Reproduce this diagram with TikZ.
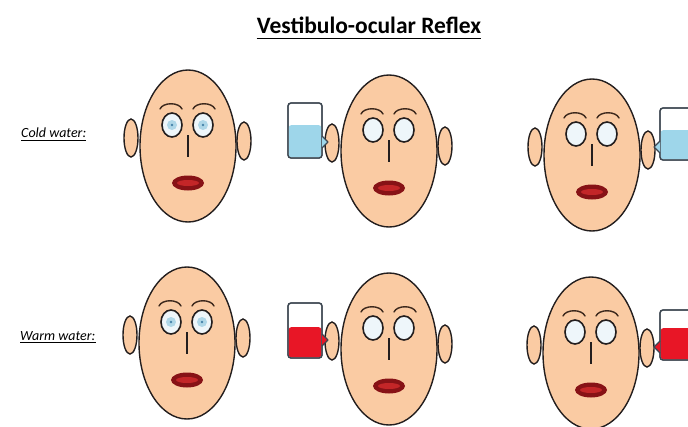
\documentclass[tikz,border=0pt]{standalone}
\usepackage{fontspec}
\setmainfont{Carlito}
\begin{document}
\definecolor{skin}{RGB}{250,203,163}
\definecolor{outline}{RGB}{35,30,30}
\definecolor{lipdark}{RGB}{135,18,22}
\definecolor{lipmid}{RGB}{195,38,40}
\definecolor{eyewhite}{RGB}{238,246,250}
\definecolor{iris}{RGB}{175,215,232}
\definecolor{pupil}{RGB}{70,130,170}
\definecolor{coldwater}{RGB}{158,214,234}
\definecolor{warmwater}{RGB}{232,22,38}
\definecolor{cupline}{RGB}{60,70,80}
\definecolor{brow}{RGB}{60,40,28}
\begin{tikzpicture}[x=1pt,y=-1pt,
  skinpart/.style={draw=outline,fill=skin,line width=1.4pt},
  eyepart/.style={draw=outline,fill=eyewhite,line width=1.6pt},
  browline/.style={draw=brow,line width=1.4pt,line cap=round},
  cupbody/.style={draw=cupline,fill=white,line width=1.3pt,rounded corners=3pt},
  label/.style={font=\itshape\fontsize{14}{16}\selectfont,inner sep=0pt},
  face/.pic={
    % ears
    \path[skinpart] (-57,-8) ellipse (7 and 19);
    \path[skinpart] (56,-5) ellipse (7 and 19);
    % head
    \path[skinpart] (0,0) ellipse (48 and 76);
    % eyebrows
    \draw[browline] (-28,-37) .. controls (-25,-44) and (-9,-44) .. (-6,-37);
    \draw[browline] (5,-37) .. controls (8,-44) and (24,-44) .. (27,-37);
    % eyes
    \path[eyepart] (-16,-21) ellipse (10 and 12);
    \path[eyepart] (15,-21) ellipse (10 and 12);
    % nose
    \draw[outline,line width=1.4pt] (0,-11) -- (0,11);
    % mouth
    \path[fill=lipdark] (0,37) ellipse (16 and 7.5);
    \path[fill=lipmid] (0,37) ellipse (11 and 3);
  },
  irises/.pic={
    \path[fill=iris] (-16,-21) circle (5);
    \path[fill=iris] (15,-21) circle (5);
    \path[fill=pupil] (-16,-21) circle (1.3);
    \path[fill=pupil] (15,-21) circle (1.3);
  }]
\useasboundingbox (0,0) rectangle (688,426);
\clip (0,0) rectangle (688,426);

% title
\node[font=\bfseries\fontsize{23.5}{26}\selectfont,inner sep=0pt] (title) at (369,25) {Vestibulo-ocular Reflex};
\draw[line width=1.5pt] ([yshift=-5pt]title.south west) -- ([yshift=-5pt]title.south east);

% row labels
\node[label,anchor=west] (cold) at (21,133) {Cold water:};
\draw[line width=0.7pt] ([yshift=-2pt]cold.south west) -- ([yshift=-2pt]cold.south east);
\node[label,anchor=west] (warm) at (20,336) {Warm water:};
\draw[line width=0.7pt] ([yshift=-2pt]warm.south west) -- ([yshift=-2pt]warm.south east);

% faces, cold water row
\pic at (188,146) {face};
\pic at (188,146) {irises};
\pic at (389,151) {face};
\pic at (592,155) {face};

% faces, warm water row
\pic at (187,343) {face};
\pic at (187,343) {irises};
\pic at (389,349) {face};
\pic at (591,353) {face};

% cup of cold water at the left ear
\path[cupbody] (288,103) rectangle (322,158);
\path[fill=coldwater,rounded corners=3pt] (288.6,125) -- (321.4,125) -- (321.4,157.4) -- (288.6,157.4) -- cycle;
\path[draw=cupline,line width=1.3pt,rounded corners=3pt] (288,103) rectangle (322,158);
\path[draw=cupline,fill=coldwater,line width=1.1pt,line join=round] (322,136) -- (328,142) -- (322,148);

% cup of cold water at the right ear
\path[cupbody] (660,108) rectangle (700,160);
\path[fill=coldwater,rounded corners=3pt] (660.6,130) -- (700,130) -- (700,159.4) -- (660.6,159.4) -- cycle;
\path[draw=cupline,line width=1.3pt,rounded corners=3pt] (660,108) rectangle (700,160);
\path[draw=cupline,fill=coldwater,line width=1.1pt,line join=round] (660,141) -- (654,147) -- (660,153);

% cup of warm water at the left ear
\path[cupbody] (288,303) rectangle (322,358);
\path[fill=warmwater,rounded corners=3pt] (288.6,327) -- (321.4,327) -- (321.4,357.4) -- (288.6,357.4) -- cycle;
\path[draw=cupline,line width=1.3pt,rounded corners=3pt] (288,303) rectangle (322,358);
\path[draw=cupline,fill=warmwater,line width=1.1pt,line join=round] (322,334) -- (328,340) -- (322,346);

% cup of warm water at the right ear
\path[cupbody] (660,310) rectangle (700,360);
\path[fill=warmwater,rounded corners=3pt] (660.6,328) -- (700,328) -- (700,359.4) -- (660.6,359.4) -- cycle;
\path[draw=cupline,line width=1.3pt,rounded corners=3pt] (660,310) rectangle (700,360);
\path[draw=cupline,fill=warmwater,line width=1.1pt,line join=round] (660,341) -- (654,347) -- (660,353);
\end{tikzpicture}
\end{document}
